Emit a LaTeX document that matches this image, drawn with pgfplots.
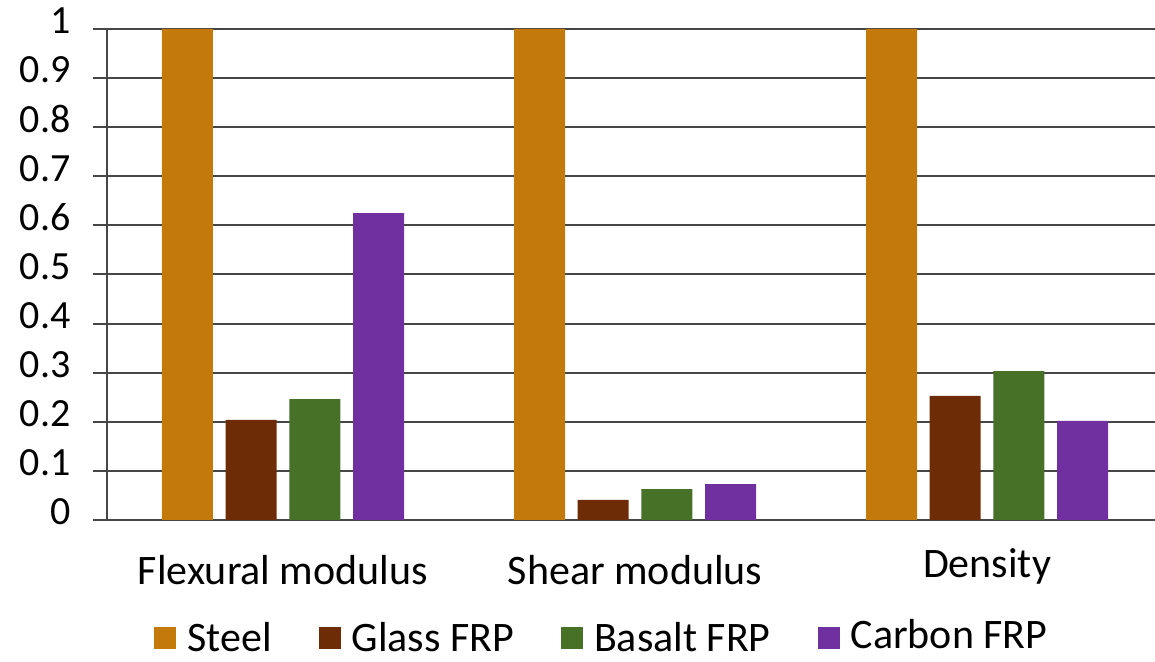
\documentclass[border=0pt]{standalone}
\usepackage{fontspec}
\setmainfont{Carlito}
\usepackage{pgfplots}
\pgfplotsset{compat=1.18}
\definecolor{steel}{RGB}{196,122,10}
\definecolor{glass}{RGB}{110,44,6}
\definecolor{basalt}{RGB}{71,113,39}
\definecolor{carbon}{RGB}{112,48,160}
\definecolor{gridc}{RGB}{70,70,70}
\begin{document}
\begin{tikzpicture}
\begin{axis}[
  scale only axis,
  width=524pt, height=245.5pt,
  xmin=-0.5, xmax=2.477,
  ymin=0, ymax=1,
  ybar=6.35pt, bar width=25.5pt,
  axis x line*=bottom, axis y line*=left,
  axis line style={draw=gridc, line width=1.2pt},
  ymajorgrids,
  grid style={draw=gridc, line width=1pt},
  ytick={0,0.1,0.2,0.3,0.4,0.5,0.6,0.7,0.8,0.9,1},
  yticklabels={0,0.1,0.2,0.3,0.4,0.5,0.6,0.7,0.8,0.9,1},
  tick align=outside,
  major tick length=7pt,
  ytick style={draw=gridc, line width=1pt},
  xtick={0,1,2},
  xticklabels={Flexural modulus, Shear modulus, \raisebox{3.5pt}{Density}},
  xtick style={draw=none},
  /pgf/number format/assume math mode=true,
  tick label style={font=\fontsize{21}{25}\selectfont, text=black},
  yticklabel style={font=\fontsize{20}{24}\selectfont, anchor=east, inner sep=0pt, xshift=-11pt, yshift=4pt},
  xticklabel style={anchor=base, inner sep=0pt, yshift=-25pt},
  legend columns=4,
  legend style={draw=none, fill=none, inner sep=0pt,
    at={(axis description cs:0,0)}, anchor=west, xshift=23.5pt, yshift=-59pt,
    font=\fontsize{21}{25}\selectfont,
    nodes={inner xsep=5.5pt, inner ysep=0pt},
    /tikz/every even column/.append style={column sep=18pt}},
  legend image code/.code={\fill[#1] (0pt,-5.5pt) rectangle (11pt,5.5pt);},
]
\addplot[fill=steel, draw=none] coordinates {(0,1) (1,1) (2,1)};
\addplot[fill=glass, draw=none] coordinates {(0,0.204) (1,0.041) (2,0.253)};
\addplot[fill=basalt, draw=none] coordinates {(0,0.246) (1,0.063) (2,0.303)};
\addplot[fill=carbon, draw=none] coordinates {(0,0.625) (1,0.073) (2,0.202)};
\legend{Steel, Glass FRP, Basalt FRP, \raisebox{2.5pt}{Carbon FRP}}
\end{axis}
\pgfresetboundingbox
\useasboundingbox (-53.5pt,-71pt) rectangle (524pt,260pt);
\end{tikzpicture}
\end{document}
